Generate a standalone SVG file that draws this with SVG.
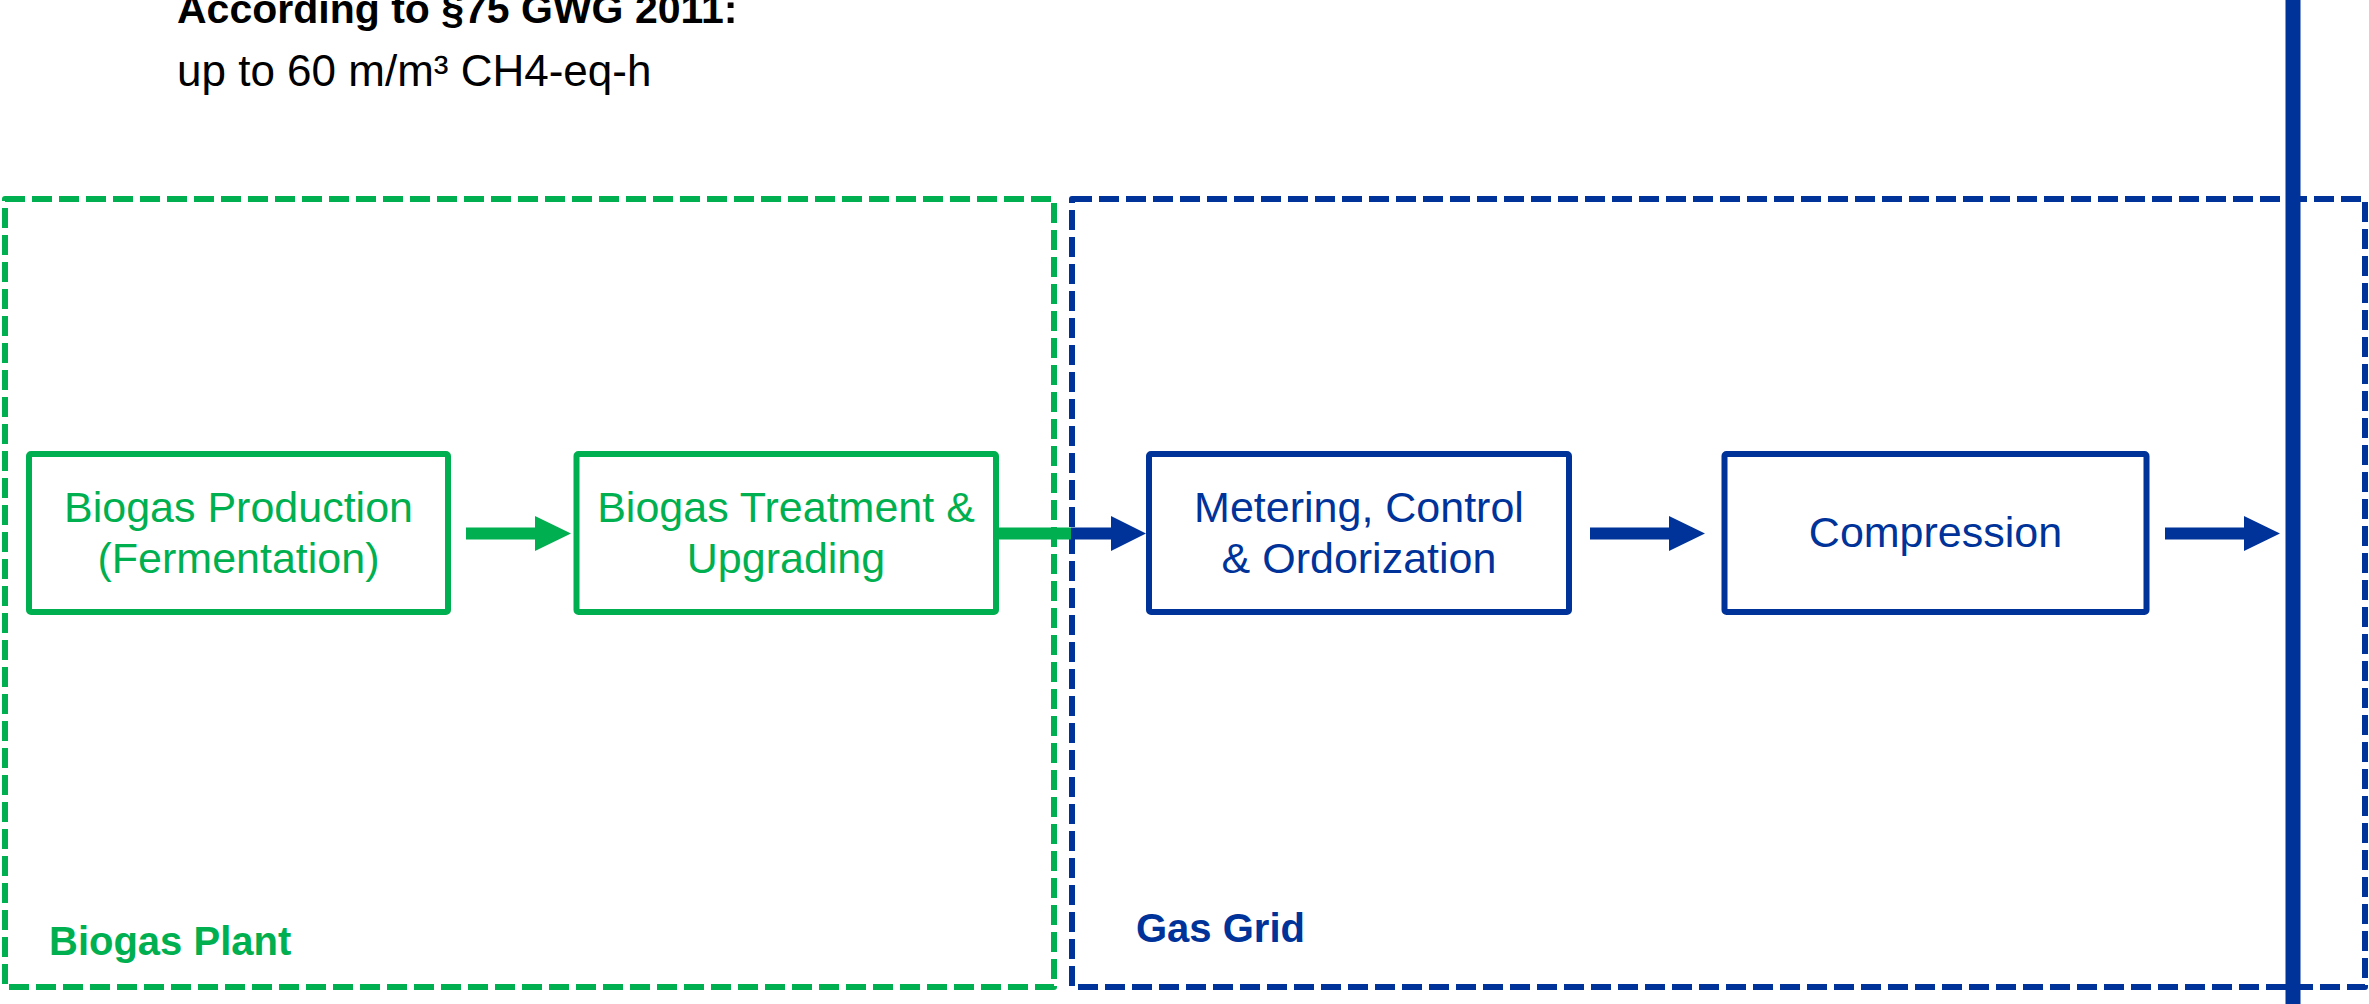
<svg xmlns="http://www.w3.org/2000/svg" width="2369" height="1004" viewBox="0 0 2369 1004">
  <style>
    .txt { font-family: "Liberation Sans", Arial, sans-serif; }
    .green { fill: #00B050; }
    .blue { fill: #003399; }
    .box { fill: #FFFFFF; stroke-width: 6; stroke-linejoin: round; }
    .box-g { stroke: #00B050; }
    .box-b { stroke: #003399; }
    .zone { fill: none; stroke-width: 6; stroke-dasharray: 20 7; stroke-linejoin: round; }
    .label { font-size: 43px; text-anchor: middle; }
    .zone-label { font-size: 40px; font-weight: bold; }
  </style>

  <rect x="0" y="0" width="2369" height="1004" fill="#FFFFFF"/>

  <!-- heading -->
  <g id="heading" class="txt">
    <text x="177" y="23" font-size="41" font-weight="bold" fill="#000000">According to §75 GWG 2011:</text>
    <text x="177" y="86" font-size="44" fill="#000000">up to 60 m/m³ CH4-eq-h</text>
  </g>

  <!-- zones -->
  <g id="zone-biogas-plant">
    <rect class="zone" x="5" y="199" width="1049" height="788" stroke="#00B050"/>
    <text class="txt zone-label green" x="49" y="955">Biogas Plant</text>
  </g>
  <g id="zone-gas-grid">
    <rect class="zone" x="1072" y="199" width="1293" height="788" stroke="#003399"/>
    <text class="txt zone-label blue" x="1136" y="942">Gas Grid</text>
  </g>

  <!-- process steps -->
  <g id="node-production">
    <rect class="box box-g" x="29" y="454" width="419" height="158" rx="2"/>
    <text class="txt label green" x="238.5" y="522">Biogas Production</text>
    <text class="txt label green" x="238.5" y="573">(Fermentation)</text>
  </g>
  <g id="node-treatment">
    <rect class="box box-g" x="576.5" y="454" width="419.5" height="158" rx="2"/>
    <text class="txt label green" x="786" y="522">Biogas Treatment &amp;</text>
    <text class="txt label green" x="786" y="573">Upgrading</text>
  </g>
  <g id="node-metering">
    <rect class="box box-b" x="1149" y="454" width="420" height="158" rx="2"/>
    <text class="txt label blue" x="1359" y="522">Metering, Control</text>
    <text class="txt label blue" x="1359" y="573">&amp; Ordorization</text>
  </g>
  <g id="node-compression">
    <rect class="box box-b" x="1724.5" y="454" width="422" height="158" rx="2"/>
    <text class="txt label blue" x="1935.5" y="547">Compression</text>
  </g>

  <!-- connectors -->
  <g id="connectors">
    <path class="green" d="M466,527.5 H535 V516 L571,533.5 L535,551 V539.5 H466 Z"/>
    <rect class="green" x="999" y="527.5" width="72" height="12"/>
    <path class="blue" d="M1071,527.5 H1111 V516 L1146,533.5 L1111,551 V539.5 H1071 Z"/>
    <path class="blue" d="M1590,527.5 H1669 V516 L1705,533.5 L1669,551 V539.5 H1590 Z"/>
    <path class="blue" d="M2165,527.5 H2244 V516 L2280,533.5 L2244,551 V539.5 H2165 Z"/>
  </g>

  <!-- grid injection line -->
  <g id="grid-line">
    <rect class="blue" x="2285.5" y="0" width="15" height="1004"/>
  </g>
</svg>
